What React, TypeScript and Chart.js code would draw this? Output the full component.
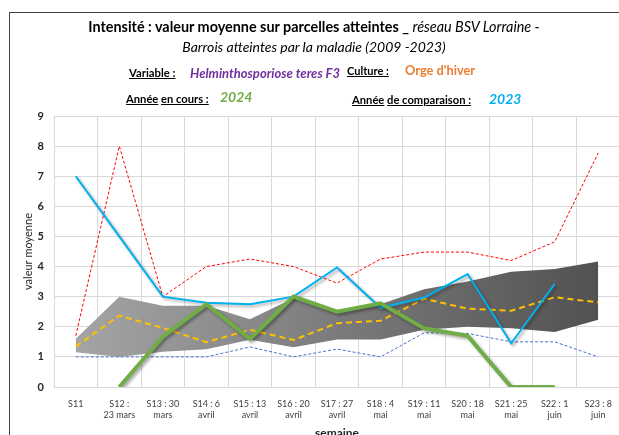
import React, { useEffect, useRef } from "react";
import { Chart, registerables } from "chart.js";

Chart.register(...registerables);

const weeks: (string | string[])[] = [
  "S11",
  ["S12 :", "23 mars"],
  ["S13 : 30", "mars"],
  ["S14 : 6", "avril"],
  ["S15 : 13", "avril"],
  ["S16 : 20", "avril"],
  ["S17 : 27", "avril"],
  ["S18 : 4", "mai"],
  ["S19 : 11", "mai"],
  ["S20 : 18", "mai"],
  ["S21 : 25", "mai"],
  ["S22 : 1", "juin"],
  ["S23 : 8", "juin"],
];

const maxValues = [1.7, 8.0, 3.0, 4.0, 4.25, 4.0, 3.45, 4.25, 4.48, 4.48, 4.2, 4.82, 7.77];
const minValues = [1.0, 1.0, 1.0, 1.0, 1.33, 1.0, 1.26, 1.0, 1.8, 1.78, 1.5, 1.5, 1.0];
const meanValues = [1.35, 2.37, 1.96, 1.49, 1.9, 1.56, 2.12, 2.2, 2.93, 2.6, 2.53, 2.98, 2.81];
const bandUpper = [1.6, 3.0, 2.7, 2.7, 2.25, 2.95, 2.45, 2.75, 3.25, 3.5, 3.83, 3.92, 4.17];
const bandLower = [1.15, 1.0, 1.17, 1.25, 1.57, 1.32, 1.58, 1.58, 1.9, 2.0, 1.95, 1.83, 2.23];
const year2023 = [7.0, 5.0, 3.0, 2.8, 2.75, 3.0, 3.97, 2.63, 2.97, 3.75, 1.45, 3.42, null];
const year2024 = [null, 0, 1.67, 2.75, 1.6, 3.0, 2.5, 2.78, 1.95, 1.7, 0, 0, null];
const yTicks = [0, 1, 2, 3, 4, 5, 6, 7, 8, 9];

const FONT = "Lato, 'Liberation Sans', sans-serif";

const shadowPlugin = {
  id: "lineShadow",
  beforeDatasetDraw(chart: any, args: any) {
    const ds = chart.data.datasets[args.index] as any;
    if (ds.shadow) {
      const ctx = chart.ctx;
      ctx.save();
      ctx.shadowColor = "rgba(0,0,0,0.35)";
      ctx.shadowBlur = 3;
      ctx.shadowOffsetX = 2;
      ctx.shadowOffsetY = 2;
    }
  },
  afterDatasetDraw(chart: any, args: any) {
    const ds = chart.data.datasets[args.index] as any;
    if (ds.shadow) chart.ctx.restore();
  },
};

function bandGradient(context: any) {
  const chart = context.chart;
  const area = chart.chartArea;
  if (!area) return "#808080";
  const g = chart.ctx.createLinearGradient(area.left, 0, area.right, 0);
  g.addColorStop(0, "#a8a8a8");
  g.addColorStop(1, "#4e4e4e");
  return g;
}

function ChartCanvas() {
  const ref = useRef<HTMLCanvasElement | null>(null);
  useEffect(() => {
    if (!ref.current) return;
    const chart = new Chart(ref.current, {
      type: "line",
      data: {
        labels: weeks as any,
        datasets: [
          {
            label: "2024",
            data: year2024 as any,
            borderColor: "#70AD47",
            borderWidth: 4,
            pointRadius: 0,
            fill: false,
            order: 0,
            tension: 0,
            shadow: true,
          } as any,
          {
            label: "2023",
            data: year2023 as any,
            borderColor: "#00B0F0",
            borderWidth: 2,
            pointRadius: 0,
            fill: false,
            order: 1,
            shadow: true,
          } as any,
          {
            label: "moyenne",
            data: meanValues,
            borderColor: "#FFC000",
            borderWidth: 2,
            borderDash: [6, 4],
            pointRadius: 0,
            fill: false,
            order: 2,
          },
          {
            label: "max",
            data: maxValues,
            borderColor: "#FF0000",
            borderWidth: 1,
            borderDash: [3, 2],
            pointRadius: 0,
            fill: false,
            order: 3,
          },
          {
            label: "min",
            data: minValues,
            borderColor: "#4472C4",
            borderWidth: 1,
            borderDash: [3, 2],
            pointRadius: 0,
            fill: false,
            order: 4,
          },
          {
            label: "haut",
            data: bandUpper,
            borderWidth: 0,
            borderColor: "rgba(0,0,0,0)",
            backgroundColor: bandGradient,
            pointRadius: 0,
            fill: 6,
            order: 5,
          },
          {
            label: "bas",
            data: bandLower,
            borderWidth: 0,
            borderColor: "rgba(0,0,0,0)",
            pointRadius: 0,
            fill: false,
            order: 6,
          },
        ],
      },
      options: {
        animation: false,
        responsive: false,
        maintainAspectRatio: false,
        layout: { padding: { left: 0, top: 116, right: 40, bottom: 0 } },
        plugins: {
          legend: { display: false },
          tooltip: { enabled: false },
          title: { display: false },
        },
        scales: {
          x: {
            type: "category",
            offset: true,
            grid: {
              offset: true,
              color: "#d9d9d9",
              lineWidth: 1,
              drawTicks: false,
            },
            border: { color: "#d9d9d9" },
            ticks: {
              color: "#404040",
              font: { family: FONT, size: 9, lineHeight: 1.3 },
              padding: 11,
              maxRotation: 0,
              autoSkip: false,
            },
            title: {
              display: true,
              text: "semaine",
              color: "#262626",
              font: { family: FONT, size: 12, weight: "bold" },
              padding: { top: 0, bottom: 20 },
            },
            afterFit(scale: any) {
              scale.height = 73;
            },
          },
          y: {
            min: 0,
            max: 9,
            afterBuildTicks(scale: any) {
              scale.ticks = yTicks.map((v) => ({ value: v }));
            },
            grid: { color: "#d9d9d9", lineWidth: 1, drawTicks: false },
            border: { display: false },
            ticks: {
              color: "#262626",
              font: { family: FONT, size: 11, weight: "bold" },
              padding: 10,
            },
            title: {
              display: true,
              text: "valeur moyenne",
              color: "#262626",
              font: { family: FONT, size: 11 },
              padding: { top: 22, bottom: 0 },
            },
            afterFit(scale: any) {
              scale.width = 54;
            },
          },
        },
      },
      plugins: [shadowPlugin],
    } as any);
    return () => chart.destroy();
  }, []);
  return (
    <canvas
      ref={ref}
      width={660}
      height={460}
      style={{ position: "absolute", left: 0, top: 0, width: 660, height: 460 }}
    />
  );
}

const txt = (
  left: number,
  cy: number,
  size: number,
  extra: React.CSSProperties,
  children: React.ReactNode
) => (
  <div
    style={{
      position: "absolute",
      left,
      top: cy - 10,
      height: 20,
      lineHeight: "20px",
      fontSize: size,
      fontFamily: FONT,
      whiteSpace: "nowrap",
      color: "#000",
      ...extra,
    }}
  >
    {children}
  </div>
);

const u: React.CSSProperties = { textDecoration: "underline" };

export default function App() {
  return (
    <div
      style={{
        position: "absolute",
        left: 0,
        top: 0,
        width: 619,
        height: 435,
        overflow: "hidden",
        background: "#fff",
      }}
    >
      <div
        style={{
          position: "absolute",
          left: 9,
          top: 12,
          width: 700,
          height: 500,
          border: "1px solid #404040",
          boxSizing: "border-box",
        }}
      />
      <ChartCanvas />
      <div
        style={{
          position: "absolute",
          left: 0,
          width: 628,
          top: 17,
          textAlign: "center",
          fontFamily: FONT,
          lineHeight: "20px",
          color: "#000",
          whiteSpace: "nowrap",
        }}
      >
        <div style={{ fontSize: 14.4 }}>
          <span style={{ fontWeight: "bold" }}>Intensité : valeur moyenne sur parcelles atteintes _ </span>
          <span style={{ fontStyle: "italic" }}>réseau BSV Lorraine -</span>
        </div>
        <div style={{ fontStyle: "italic", fontSize: 14 }}>Barrois atteintes par la maladie (2009 -2023)</div>
      </div>
      {txt(129, 73, 11.3, { fontWeight: "bold" }, <span style={u}>Variable :</span>)}
      {txt(190, 73, 13, { fontWeight: "bold", fontStyle: "italic", color: "#7030A0" }, "Helminthosporiose teres F3")}
      {txt(347, 71, 11, { fontWeight: "bold" }, <span style={u}>Culture :</span>)}
      {txt(405, 70, 12.8, { fontWeight: "bold", color: "#ED7D31" }, "Orge d'hiver")}
      {txt(126, 99, 11.2, { fontWeight: "bold" }, <><span style={u}>Année</span> <span style={u}>en cours :</span></>)}
      {txt(220, 97, 14, { fontWeight: "bold", fontStyle: "italic", color: "#70AD47" }, "2024")}
      {txt(352, 100, 11.2, { fontWeight: "bold" }, <><span style={u}>Année</span> <span style={u}>de comparaison :</span></>)}
      {txt(489, 99, 14, { fontWeight: "bold", fontStyle: "italic", color: "#00B0F0" }, "2023")}
    </div>
  );
}
